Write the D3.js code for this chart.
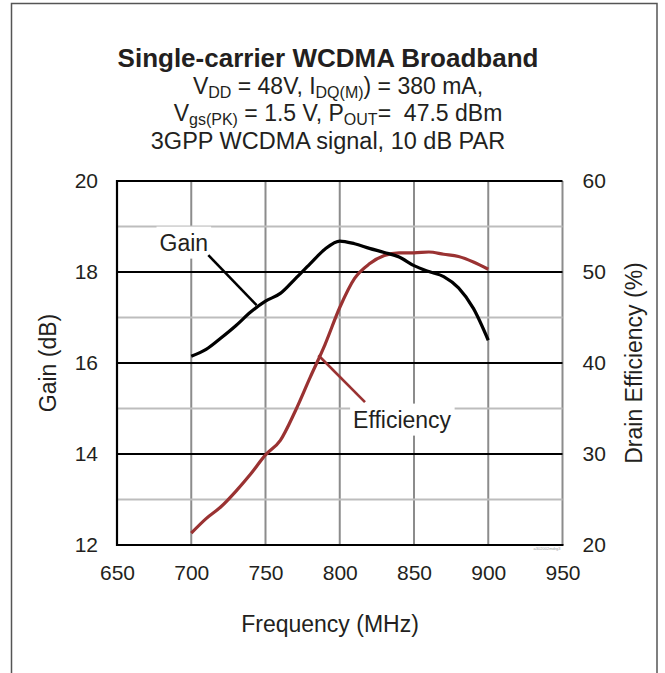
<!DOCTYPE html>
<html>
<head>
<meta charset="utf-8">
<script src="https://cdn.jsdelivr.net/npm/d3@7"></script>
<style>
  body { margin: 0; background: #fff; }
  svg { display: block; font-family: "Liberation Sans", Arial, sans-serif; }
  text { white-space: pre; }
</style>
</head>
<body>
<div id="chart"></div>
<script>
// frequency points (MHz)
const freqs = [700, 710, 720, 730, 740, 750, 760, 770, 780, 790, 800,
  810, 820, 830, 840, 850, 860, 870, 880, 890, 900];
// gain (dB), left axis
const gain = [16.15, 16.3, 16.55, 16.82, 17.12, 17.36, 17.53, 17.85, 18.18, 18.5, 18.68,
  18.62, 18.52, 18.43, 18.33, 18.14, 18.01, 17.9, 17.65, 17.2, 16.5];
// drain efficiency (%), right axis
const efficiency = [21.3, 22.9, 24.2, 25.9, 27.8, 29.9, 31.5, 34.7, 38.4, 42.0, 46.1,
  49.3, 50.9, 51.8, 52.1, 52.1, 52.2, 51.95, 51.7, 51.1, 50.3];

const xTicks = [650, 700, 750, 800, 850, 900, 950];
const gainTicks = [12, 14, 16, 18, 20];
const gainMinor = [13, 15, 17, 19];
const effTicks = [20, 30, 40, 50, 60];

// callouts: label anchor + leader line ends, in data units
const gainCallout = {label: 'Gain', at: [695, 18.47], from: [711.5, 18.37], to: [744, 17.27]};
const effCallout = {label: 'Efficiency', at: [842, 32.9], from: [817, 35.7], to: [785.6, 40.85]};

const width = 665;
const height = 673;
const plot = {left: 117, right: 562.5, top: 181, bottom: 545};
const red = '#9a3232';

const svg = d3
  .select('#chart')
  .append('svg')
  .attr('width', width)
  .attr('height', height);

// outer frame
svg.append('rect')
  .attr('x', 11.5)
  .attr('y', 3.5)
  .attr('width', 645.5)
  .attr('height', 700)
  .attr('fill', 'none')
  .attr('stroke', '#555')
  .attr('stroke-width', 1.5);

// titles
const title = svg.append('g').attr('text-anchor', 'middle').attr('fill', '#231f20');
title.append('text')
  .attr('x', 328)
  .attr('y', 67)
  .attr('font-size', 26)
  .attr('font-weight', 'bold')
  .text('Single-carrier WCDMA Broadband');

// text line with subscripts: parts are [string, isSub]
const subLine = (y, parts) => {
  const t = title.append('text').attr('x', 338).attr('y', y).attr('font-size', 23);
  let shift = 0;
  parts.forEach(([s, isSub]) => {
    const target = isSub ? 4 : 0;
    t.append('tspan')
      .attr('font-size', isSub ? 16 : 23)
      .attr('dy', target - shift)
      .text(s);
    shift = target;
  });
};
subLine(94, [['V', false], ['DD', true], [' = 48V, I', false], ['DQ(M)', true], [') = 380 mA,', false]]);
subLine(121, [['V', false], ['gs(PK)', true], [' = 1.5 V, P', false], ['OUT', true], ['=  47.5 dBm', false]]);
title.append('text')
  .attr('x', 328)
  .attr('y', 149)
  .attr('font-size', 23.5)
  .text('3GPP WCDMA signal, 10 dB PAR');

// scales
const x = d3.scaleLinear().domain([650, 950]).range([plot.left, plot.right]);
const yGain = d3.scaleLinear().domain([12, 20]).range([plot.bottom, plot.top]);
const yEff = d3.scaleLinear().domain([20, 60]).range([plot.bottom, plot.top]);

// grid
const grid = svg.append('g');
grid.selectAll('.vgrid')
  .data(xTicks.slice(1))
  .enter()
  .append('line')
  .attr('x1', d => x(d))
  .attr('x2', d => x(d))
  .attr('y1', plot.top)
  .attr('y2', plot.bottom)
  .attr('stroke', '#8c8c8c')
  .attr('stroke-width', 2);
grid.selectAll('.minor')
  .data(gainMinor)
  .enter()
  .append('line')
  .attr('x1', plot.left)
  .attr('x2', plot.right)
  .attr('y1', d => yGain(d))
  .attr('y2', d => yGain(d))
  .attr('stroke', '#bdbdbd')
  .attr('stroke-width', 2);
grid.selectAll('.major')
  .data(gainTicks.slice(1, -1))
  .enter()
  .append('line')
  .attr('x1', plot.left)
  .attr('x2', plot.right)
  .attr('y1', d => yGain(d))
  .attr('y2', d => yGain(d))
  .attr('stroke', '#000')
  .attr('stroke-width', 2);

// axes frame: top, left, bottom black
svg.append('path')
  .attr('d', `M${plot.right},${plot.top}H${plot.left}V${plot.bottom}H${plot.right + 1}`)
  .attr('fill', 'none')
  .attr('stroke', '#000')
  .attr('stroke-width', 2.2);

// callout boxes
const callout = (c, yScale, color) => {
  const g = svg.append('g');
  const label = g.append('text')
    .attr('x', x(c.at[0]))
    .attr('y', yScale(c.at[1]))
    .attr('text-anchor', 'middle')
    .attr('font-size', 23)
    .attr('fill', '#231f20')
    .text(c.label);
  const bb = label.node().getBBox();
  g.insert('rect', 'text')
    .attr('x', bb.x - 3)
    .attr('y', bb.y - 3)
    .attr('width', bb.width + 6)
    .attr('height', bb.height + 6)
    .attr('fill', '#fff');
  g.append('line')
    .attr('x1', x(c.from[0]))
    .attr('y1', yScale(c.from[1]))
    .attr('x2', x(c.to[0]))
    .attr('y2', yScale(c.to[1]))
    .attr('stroke', color)
    .attr('stroke-width', 2.6);
};
callout(gainCallout, yGain, '#000');
callout(effCallout, yEff, red);

// series
const gainLine = d3.line()
  .x((d, i) => x(freqs[i]))
  .y(d => yGain(d))
  .curve(d3.curveMonotoneX);
const effLine = d3.line()
  .x((d, i) => x(freqs[i]))
  .y(d => yEff(d))
  .curve(d3.curveMonotoneX);

svg.append('path')
  .datum(efficiency)
  .attr('d', effLine)
  .attr('fill', 'none')
  .attr('stroke', red)
  .attr('stroke-width', 3.2)
  .attr('stroke-linejoin', 'round');
svg.append('path')
  .datum(gain)
  .attr('d', gainLine)
  .attr('fill', 'none')
  .attr('stroke', '#000')
  .attr('stroke-width', 3.2)
  .attr('stroke-linejoin', 'round');

// tick labels
const tickColor = '#231f20';
svg.append('g')
  .attr('transform', `translate(0,${plot.bottom})`)
  .call(d3.axisBottom(x).tickValues(xTicks).tickSize(0).tickPadding(0))
  .call(g => g.select('.domain').remove())
  .selectAll('text')
  .attr('dy', null)
  .attr('y', 35)
  .attr('font-size', 21)
  .attr('font-family', null)
  .attr('fill', tickColor);

svg.append('g')
  .attr('transform', `translate(${plot.left},0)`)
  .call(d3.axisLeft(yGain).tickValues(gainTicks).tickSize(0).tickPadding(19))
  .call(g => g.select('.domain').remove())
  .selectAll('text')
  .attr('font-size', 21)
  .attr('font-family', null)
  .attr('fill', tickColor);

svg.append('g')
  .attr('transform', `translate(${plot.right},0)`)
  .call(d3.axisRight(yEff).tickValues(effTicks).tickSize(0).tickPadding(20))
  .call(g => g.select('.domain').remove())
  .selectAll('text')
  .attr('font-size', 21)
  .attr('font-family', null)
  .attr('fill', tickColor);

// axis titles
svg.append('text')
  .attr('x', 330)
  .attr('y', 632)
  .attr('text-anchor', 'middle')
  .attr('font-size', 23)
  .attr('fill', tickColor)
  .text('Frequency (MHz)');
svg.append('text')
  .attr('transform', `translate(56,${(plot.top + plot.bottom) / 2}) rotate(-90)`)
  .attr('text-anchor', 'middle')
  .attr('font-size', 23)
  .attr('fill', tickColor)
  .text('Gain (dB)');
svg.append('text')
  .attr('transform', `translate(642,${(plot.top + plot.bottom) / 2}) rotate(-90)`)
  .attr('text-anchor', 'middle')
  .attr('font-size', 23)
  .attr('fill', tickColor)
  .text('Drain Efficiency (%)');

// tiny figure id
svg.append('text')
  .attr('x', plot.right - 2)
  .attr('y', plot.bottom + 5)
  .attr('text-anchor', 'end')
  .attr('font-size', 4)
  .attr('fill', '#999')
  .text('a302002mdrg3');
</script>
</body>
</html>
